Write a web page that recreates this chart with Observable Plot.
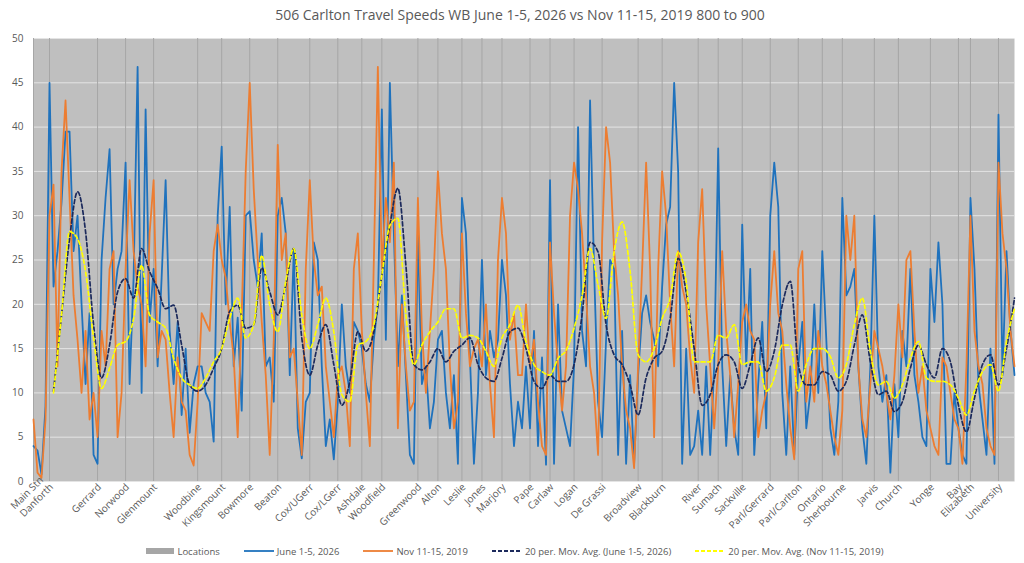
<!DOCTYPE html>
<html>
<head>
<meta charset="utf-8">
<script src="https://cdn.jsdelivr.net/npm/d3@7"></script>
<script src="https://cdn.jsdelivr.net/npm/@observablehq/plot@0.6"></script>
<style>
  html, body { margin: 0; padding: 0; background: #ffffff; }
  body { width: 1024px; height: 563px; overflow: hidden; font-family: "Open Sans", "Noto Sans", sans-serif; }
  #title { height: 28px; line-height: 30px; text-align: center; font-size: 14px; color: #595959; padding-left: 16px; }
  #legend { display: flex; justify-content: center; align-items: center; gap: 24px; font-size: 9.5px; color: #595959; height: 20px; margin-top: 2px; padding-left: 6px; }
  #legend .item { display: flex; align-items: center; gap: 3px; }
</style>
</head>
<body>
<div id="title">506 Carlton Travel Speeds WB June 1-5, 2026 vs Nov 11-15, 2019 800 to 900</div>
<div id="chart"></div>
<div id="legend"></div>
<script>
// Location names and their positions (sample index along the route)
const locNames = ["Main Stn","Danforth","Gerrard","Norwood","Glenmount","Woodbine","Kingsmount","Bowmore","Beaton","Cox/UGerr","Cox/LGerr","Ashdale","Woodfield","Greenwood","Alton","Leslie","Jones","Marjory","Pape","Carlaw","Logan","De Grassi","Broadview","Blackburn","River","Sumach","Sackville","Parl/Gerrard","Parl/Carlton","Ontario","Sherbourne","Jarvis","Church","Yonge","Bay","Elizabeth","University"];
const locIdx = [0,4,16,23,30,41,47,54,61,69,76,82,87,96,101,107,112,117,124,129,135,142,151,157,166,171,177,184,191,197,202,210,216,224,231,234,241];

const yTicks = [0,5,10,15,20,25,30,35,40,45,50];

// Travel speeds, June 1-5, 2026 (one value per sample index 0..245)
const june = [4,3.5,0.8,8.5,45,22,26,31.5,39.5,39.5,26,30,20,11,19,3,2,25,32,37.5,
20,24,26,36,11,23,46.8,10,42,18,24,13,23,34,17,11,18,7.5,15,5.5,
11,13,13,10,9,4.5,30,37.8,20,31,13,18.5,8,30,30.5,25,22,28,13,14,
9,30,32,28,12,26,6,2.6,9,10,27,25,13,4,7,2.5,9,20,13,10,
18,17,15,11,9,16,20,42,16,45,28,13,21,12,3,2,28,11,13,6,
9,16,17,10,6,12,2,32,28,14,2,10,25,12,17,14,16,25,21,11,
4,9,6,13,6,17,4,14,1.9,34,2,20,8,6,4,13,40,17,13,43,
24,9,5,16,25,24,3,17,2,12,2,12,19,21,18,16,13,22,29,31,
45,35,2,15,3,4,8,3,13,3,13,37.6,13,4,12,6,3,29,13,24,
3,11,18,6,30,36,31,10,3,13,3,13,18,6,10,20,10,26,16,6,
3,9,32,21,22,24,13,6,2,13,30,13,9,12,1,11,5,17,13,24,
12,9,5,4,24,18,27,20,2,2,10,6,3,2,32,24,11,7,3,15,
2,41.4,12,26,17,12];

// Travel speeds, Nov 11-15, 2019
const nov = [7,1,0.4,7,30,33.5,13,35,43,32,21,16,10,17,7,10,5,17,13,24,
26,5,10,24,34,26,22,20,13,28,34,14,17,16,10,5,14,9,8,3,
1.8,9,19,18,17,26,29,25,23,18,14,5,19,35,45,33,25,18,12,3,
16,38,25,28,14,15,9,3,24,34,25,21,22,13,9,5,12,13,10,4,
24,28,17,10,4,25,46.8,24,32,27,36,6,20,13,8,9,32,17,10,17,
24,35,28,24,13,6,9,28,19,13,15,16,13,20,11,5,25,32,28,16,
19,12,12,20,13,16,9,4,3,27,19,13,8,13,30,36,33,28,21,13,
10,3,27,40,36,26,21,13,8,6,1.5,13,24,36,24,5,24,35,30,20,
13,26,22,20,14,10,27,33,20,13,6,13,26,17,12,5,11,18,20,17,
16,5,8,10,20,26,19,17,11,6,2.5,24,26,9,13,9,17,13,11,8,
5,3,8,30,25,30,13,7,5,11,17,15,13,10,7,12,20,14,25,26,
17,10,13,8,6,4,3,14,13,10,7,6,2,13,30,17,13,11,6,4,
3,36,28,24,17,13];

// 20 per. moving averages, read every 2nd sample starting at index 5
const maStart = 5, maStep = 2;
const maJune = [10.2,18.8,27.4,32.7,28.2,17.7,11.7,15.4,21.4,22.9,20.7,26.3,23.7,21.8,19.5,19.9,15.4,10.9,10.2,10.9,12.8,15,19.2,19.9,17.3,17.7,24.1,21.4,
18.8,22.2,26.3,16.2,12,15.4,17.7,13.2,8.6,11.3,16.9,14.7,16.9,23.3,28.9,33.1,24.4,13.2,12.6,13.5,15,13.5,14.7,15.4,16.2,13.2,11.7,11.3,13.9,16.9,17.3,
15,11.3,10.5,12,11.3,11.3,13.2,18.8,27,25.9,17.7,14.3,13.2,10.9,7.5,11.7,13.9,14.7,18.4,25.2,21.4,15,8.6,9.8,13.2,14.3,13.5,10.5,13.2,16.2,12.4,
14.7,19.9,22.6,13.2,10.9,10.9,12.4,12,10.2,11.3,15.4,18.8,13.5,9.8,10.2,7.9,9,12.8,15.4,13.2,11.7,15,13.5,8.6,5.6,9.4,13.2,14.3,10.9,15,20.7];
const maNov = [10,18.8,28.2,27.4,23.7,16.2,10.5,12.8,15.4,15.8,18.4,24.4,18.8,18,17.3,13.9,11.7,10.9,10.5,11.7,13.5,15,18.4,20.7,16.2,17.7,25.5,19.9,
16.9,22.6,26.3,18.8,15,17.7,20.7,16.9,9.8,9,15.4,15.8,17.7,23.3,28.9,29.7,18.8,13.2,15.4,16.9,18,19.5,19.5,16.2,16.5,16.2,14.7,13,16.2,17.7,19.9,
15.8,13.2,12.4,12,13.9,14.8,17.3,21,26.3,22.2,18.4,25.9,29.3,23.7,14.3,13.5,15,18.4,20.7,25.9,22.6,13.5,13.5,13.5,16.5,16.2,17.7,13.2,13.5,13.5,10.2,
11.7,15.4,15.4,10.2,13.2,15,15,14.1,11.7,13.2,17.7,20.7,14.7,10.9,11.3,9.4,10.9,13.9,15.8,11.7,11.3,11.3,10.9,9.4,7.5,10.2,12.4,13.2,10.2,15.8,19.5];

const colors = { loc: "#a6a6a6", june: "#1f72bd", nov: "#ed7d31", maJune: "#1c2a5c", maNov: "#ffff00" };

const juneData = june.map((v, i) => ({ i, v }));
const novData = nov.map((v, i) => ({ i, v }));
const maJuneData = maJune.map((v, k) => ({ i: maStart + k * maStep, v }));
const maNovData = maNov.map((v, k) => ({ i: maStart + k * maStep, v }));
const nameByIdx = new Map(locIdx.map((d, k) => [d, locNames[k]]));

const chart = Plot.plot({
  width: 1024,
  height: 511,
  marginTop: 10,
  marginLeft: 33,
  marginRight: 10,
  marginBottom: 58,
  style: { fontFamily: "'Open Sans', 'Noto Sans', sans-serif", fontSize: "10px", color: "#595959", background: "transparent", overflow: "visible" },
  x: { domain: [0, june.length - 1], axis: null },
  y: { domain: [0, 50], axis: null },
  marks: [
    Plot.frame({ fill: "#bfbfbf", stroke: null }),
    Plot.ruleY(yTicks, { stroke: "#e4e4e4", strokeWidth: 1 }),
    Plot.ruleX(locIdx, { y1: 0, y2: 50, stroke: colors.loc, strokeWidth: 1 }),
    Plot.line(juneData, { x: "i", y: "v", stroke: colors.june, strokeWidth: 1.8, strokeLinejoin: "round" }),
    Plot.line(novData, { x: "i", y: "v", stroke: colors.nov, strokeWidth: 1.8, strokeLinejoin: "round" }),
    Plot.line(maJuneData, { x: "i", y: "v", stroke: colors.maJune, strokeWidth: 1.7, strokeDasharray: "4,2.5", curve: "monotone-x" }),
    Plot.line(maNovData, { x: "i", y: "v", stroke: colors.maNov, strokeWidth: 1.7, strokeDasharray: "4,2.5", curve: "monotone-x" }),
    Plot.axisY({ ticks: yTicks, tickSize: 0, tickPadding: 10, fill: "#595959", label: null }),
    Plot.axisX({ ticks: locIdx.slice(1), tickFormat: d => nameByIdx.get(d), tickRotate: -45, tickSize: 0, tickPadding: 4, dx: 2, fill: "#595959", label: null }),
    Plot.axisX({ ticks: locIdx.slice(0, 1), tickFormat: d => nameByIdx.get(d), tickRotate: -45, tickSize: 0, tickPadding: 4, dx: 8, dy: -7, fill: "#595959", label: null })
  ]
});
document.getElementById("chart").appendChild(chart);

// Legend
const legendItems = [
  { label: "Locations", type: "bar", color: colors.loc },
  { label: "June 1-5, 2026", type: "line", color: colors.june },
  { label: "Nov 11-15, 2019", type: "line", color: colors.nov },
  { label: "20 per. Mov. Avg. (June 1-5, 2026)", type: "dash", color: colors.maJune },
  { label: "20 per. Mov. Avg. (Nov 11-15, 2019)", type: "dash", color: colors.maNov }
];
const legend = document.getElementById("legend");
for (const it of legendItems) {
  const div = document.createElement("div");
  div.className = "item";
  let sw;
  if (it.type === "bar") sw = `<svg width="28" height="8"><rect x="0" y="1" width="28" height="6" fill="${it.color}"/></svg>`;
  else if (it.type === "line") sw = `<svg width="30" height="8"><line x1="0" x2="30" y1="4" y2="4" stroke="${it.color}" stroke-width="1.8"/></svg>`;
  else sw = `<svg width="30" height="8"><line x1="0" x2="30" y1="4" y2="4" stroke="${it.color}" stroke-width="1.8" stroke-dasharray="4,2"/></svg>`;
  div.innerHTML = sw + `<span>${it.label}</span>`;
  legend.appendChild(div);
}
</script>
</body>
</html>
